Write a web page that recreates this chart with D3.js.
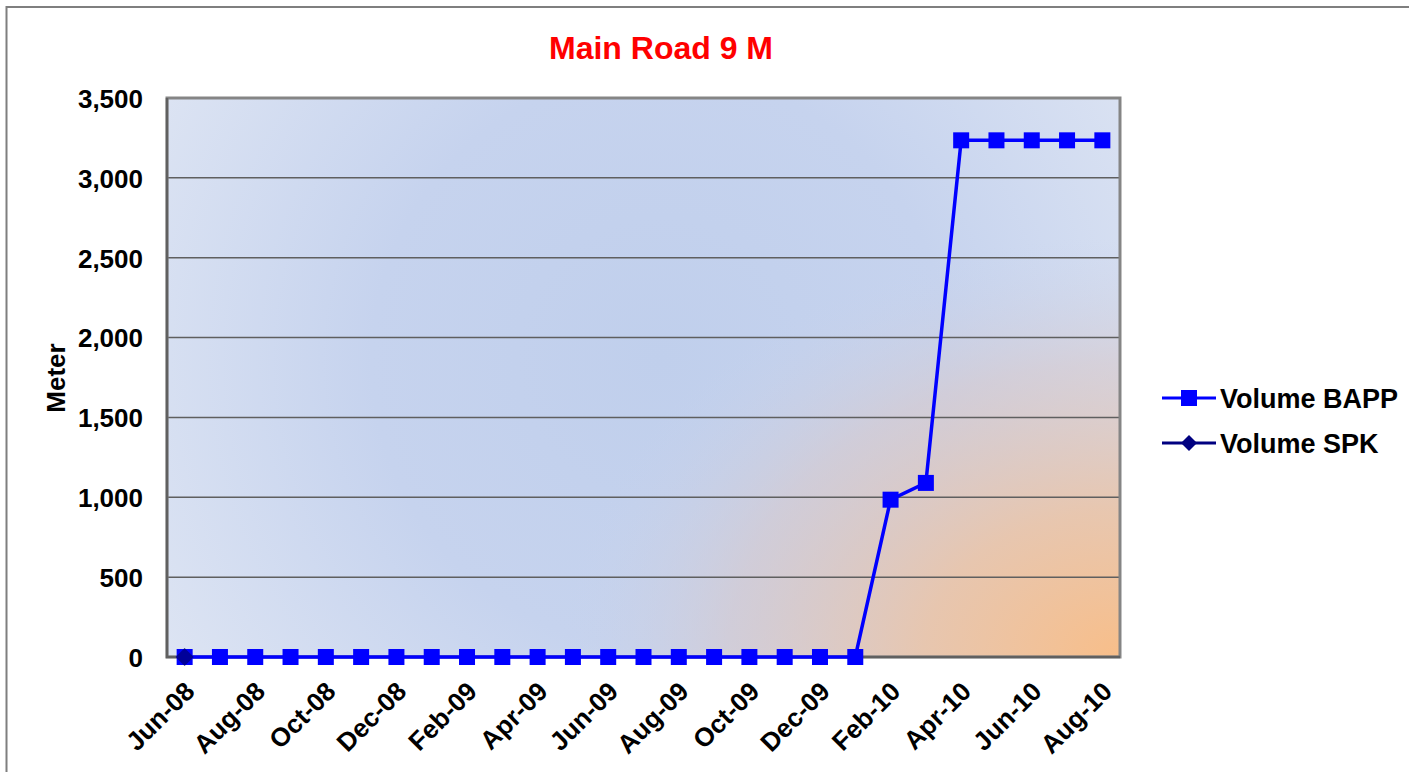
<!DOCTYPE html>
<html>
<head>
<meta charset="utf-8">
<script src="https://cdn.jsdelivr.net/npm/d3@7"></script>
<style>
  body { margin: 0; background: #fff; }
  svg { display: block; font-family: "Liberation Sans", Arial, sans-serif; }
</style>
</head>
<body>
<div id="chart"></div>
<script>
// months on the category axis
var months = ["Jun-08","Jul-08","Aug-08","Sep-08","Oct-08","Nov-08","Dec-08","Jan-09","Feb-09",
  "Mar-09","Apr-09","May-09","Jun-09","Jul-09","Aug-09","Sep-09","Oct-09","Nov-09","Dec-09",
  "Jan-10","Feb-10","Mar-10","Apr-10","May-10","Jun-10","Jul-10","Aug-10"]

// series values (null = no point)
var bapp = [0,0,0,0,0,0,0,0,0,0,0,0,0,0,0,0,0,0,0,0,985,1090,3235,3235,3235,3235,3235]
var spk = [0,null,null,null,null,null,null,null,null,null,null,null,null,null,null,null,null,
  null,null,null,null,null,null,null,null,null,null]

var yTicks = [0,500,1000,1500,2000,2500,3000,3500]
var xLabels = months.filter(function(d, i) { return i % 2 == 0 })

var w = 1409, h = 772
var plot = {left: 167, top: 98, right: 1120, bottom: 657}

var svg = d3.select("#chart").append("svg")
  .attr("width", w)
  .attr("height", h)

var defs = svg.append("defs")

// bluish background, lighter toward the edges
var bg = defs.append("radialGradient")
  .attr("id", "bgBlue")
  .attr("gradientUnits", "userSpaceOnUse")
  .attr("cx", 660).attr("cy", 360).attr("r", 640)
bg.append("stop").attr("offset", 0).attr("stop-color", "#c0cfec")
bg.append("stop").attr("offset", 0.45).attr("stop-color", "#c6d3ee")
bg.append("stop").attr("offset", 1).attr("stop-color", "#e2e8f4")

// orange glow in bottom right corner (elliptical)
var og = defs.append("radialGradient")
  .attr("id", "bgOrange")
  .attr("gradientUnits", "userSpaceOnUse")
  .attr("cx", 0).attr("cy", 0).attr("r", 1)
  .attr("gradientTransform", "translate(" + plot.right + "," + plot.bottom + ") scale(560,420)")
og.append("stop").attr("offset", 0).attr("stop-color", "#f8be89").attr("stop-opacity", 1)
og.append("stop").attr("offset", 0.35).attr("stop-color", "#eac4a8").attr("stop-opacity", 0.9)
og.append("stop").attr("offset", 0.7).attr("stop-color", "#d8c9cb").attr("stop-opacity", 0.6)
og.append("stop").attr("offset", 1).attr("stop-color", "#c8d3ec").attr("stop-opacity", 0)

// outer frame
svg.append("rect")
  .attr("x", 6.5).attr("y", 7)
  .attr("width", 1500).attr("height", 900)
  .attr("fill", "none")
  .attr("stroke", "#7f7f7f")
  .attr("stroke-width", 2)

// title
svg.append("text")
  .attr("x", 661).attr("y", 59)
  .attr("text-anchor", "middle")
  .attr("fill", "#ff0000")
  .style("font-size", "32px")
  .style("font-weight", "bold")
  .text("Main Road 9 M")

// scales
var x = d3.scalePoint()
  .domain(months)
  .range([plot.left, plot.right])
  .padding(0.5)

var y = d3.scaleLinear()
  .domain([0, 3500])
  .range([plot.bottom, plot.top])

// plot area
svg.append("rect")
  .attr("x", plot.left).attr("y", plot.top)
  .attr("width", plot.right - plot.left).attr("height", plot.bottom - plot.top)
  .attr("fill", "url(#bgBlue)")
svg.append("rect")
  .attr("x", plot.left).attr("y", plot.top)
  .attr("width", plot.right - plot.left).attr("height", plot.bottom - plot.top)
  .attr("fill", "url(#bgOrange)")

// gridlines
svg.append("g")
  .selectAll("line")
  .data(yTicks.slice(1, -1))
  .enter()
  .append("line")
  .attr("x1", plot.left).attr("x2", plot.right)
  .attr("y1", function(d) { return y(d) }).attr("y2", function(d) { return y(d) })
  .attr("stroke", "#5f5f5f")
  .attr("stroke-width", 1.5)

svg.append("rect")
  .attr("x", plot.left).attr("y", plot.top)
  .attr("width", plot.right - plot.left).attr("height", plot.bottom - plot.top)
  .attr("fill", "none")
  .attr("stroke", "#858585")
  .attr("stroke-width", 3)

// left and bottom axis lines a bit darker
svg.append("path")
  .attr("d", "M" + plot.left + "," + plot.top + "V" + plot.bottom + "H" + plot.right)
  .attr("fill", "none")
  .attr("stroke", "#606060")
  .attr("stroke-width", 2.5)

// y axis
var yAxis = svg.append("g")
  .attr("transform", "translate(" + plot.left + ",0)")
  .call(d3.axisLeft(y).tickValues(yTicks).tickFormat(d3.format(",")).tickSize(0).tickPadding(24))
yAxis.select(".domain").remove()
yAxis.selectAll("text")
  .attr("fill", "#000")
  .attr("dy", "0.36em")
  .style("font-size", "26px")
  .style("font-weight", "bold")
  .style("font-family", "Liberation Sans, Arial, sans-serif")

// x axis
var xAxis = svg.append("g")
  .attr("transform", "translate(0," + plot.bottom + ")")
  .call(d3.axisBottom(x).tickValues(xLabels).tickSize(0).tickPadding(0))
xAxis.select(".domain").remove()
xAxis.selectAll("text")
  .attr("fill", "#000")
  .attr("text-anchor", "end")
  .attr("dy", 0)
  .attr("transform", "translate(11,36) rotate(-45)")
  .style("font-size", "26px")
  .style("font-weight", "bold")
  .style("font-family", "Liberation Sans, Arial, sans-serif")

// axis title
svg.append("text")
  .attr("transform", "translate(65,378) rotate(-90)")
  .attr("text-anchor", "middle")
  .style("font-size", "26px")
  .style("font-weight", "bold")
  .text("Meter")

// lines
var line = d3.line()
  .defined(function(d) { return d != null })
  .x(function(d, i) { return x(months[i]) })
  .y(function(d) { return y(d) })

svg.append("path")
  .datum(bapp)
  .attr("d", line)
  .attr("fill", "none")
  .attr("stroke", "#0000ff")
  .attr("stroke-width", 3.5)

svg.append("g")
  .selectAll("rect")
  .data(bapp.map(function(v, i) { return {v: v, m: months[i]} }).filter(function(d) { return d.v != null }))
  .enter()
  .append("rect")
  .attr("x", function(d) { return x(d.m) - 8 })
  .attr("y", function(d) { return y(d.v) - 8 })
  .attr("width", 16).attr("height", 16)
  .attr("fill", "#0000ff")

svg.append("path")
  .datum(spk)
  .attr("d", line)
  .attr("fill", "none")
  .attr("stroke", "#000080")
  .attr("stroke-width", 3.5)

var diamond = "M0,-9L9,0L0,9L-9,0Z"
svg.append("g")
  .selectAll("path")
  .data(spk.map(function(v, i) { return {v: v, m: months[i]} }).filter(function(d) { return d.v != null }))
  .enter()
  .append("path")
  .attr("d", diamond)
  .attr("transform", function(d) { return "translate(" + x(d.m) + "," + y(d.v) + ")" })
  .attr("fill", "#000080")
  .attr("opacity", 0.8)

// legend
var legend = [
  {name: "Volume BAPP", colour: "#0000ff", shape: "square"},
  {name: "Volume SPK", colour: "#000080", shape: "diamond"}
]
var lg = svg.append("g")
  .selectAll("g")
  .data(legend)
  .enter()
  .append("g")
  .attr("transform", function(d, i) { return "translate(1162," + (398 + i * 45) + ")" })

lg.append("line")
  .attr("x1", 0).attr("x2", 54)
  .attr("stroke", function(d) { return d.colour })
  .attr("stroke-width", 3)

lg.append("path")
  .attr("d", function(d) {
    return d.shape == "square" ? "M-8,-8h16v16h-16z" : "M0,-8L8,0L0,8L-8,0Z"
  })
  .attr("transform", "translate(27,0)")
  .attr("fill", function(d) { return d.colour })

lg.append("text")
  .attr("x", 58)
  .attr("dy", "0.36em")
  .style("font-size", "27px")
  .style("font-weight", "bold")
  .text(function(d) { return d.name })
</script>
</body>
</html>
